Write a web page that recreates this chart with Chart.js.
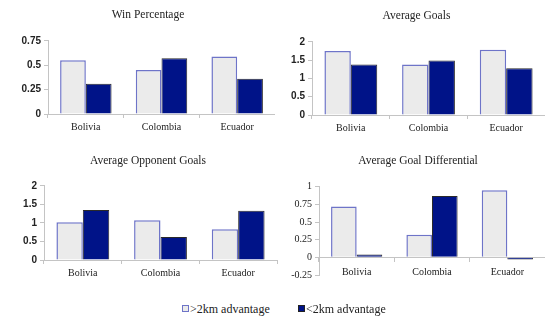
<!DOCTYPE html>
<html>
<head>
<meta charset="utf-8">
<script src="https://cdn.jsdelivr.net/npm/chart.js@4"></script>
<style>
    body { margin: 0; background: #fff; }
    #wrap { position: relative; width: 545px; height: 329px; overflow: hidden; }
    canvas { position: absolute; }
    .legend { position: absolute; top: 302px; font-family: "Liberation Serif", serif; font-size: 12px; color: #222; white-space: nowrap; }
    .swatch { display: inline-block; width: 5px; height: 5px; margin-right: 1px; vertical-align: 1px; }
</style>
</head>
<body>
<div id="wrap">
    <canvas id="winChart" style="left:0;top:0"></canvas>
    <canvas id="goalsChart" style="left:272px;top:0"></canvas>
    <canvas id="oppChart" style="left:0;top:140px"></canvas>
    <canvas id="diffChart" style="left:272px;top:140px"></canvas>
    <div class="legend" style="left:182px"><span class="swatch" style="background:#ebebeb;border:1px solid #6e74c8"></span>&gt;2km advantage</div>
    <div class="legend" style="left:298px"><span class="swatch" style="background:#001388;border:1px solid #222"></span>&lt;2km advantage</div>
</div>
<script>
// ==================== DATA ====================

const countries = ['Bolivia', 'Colombia', 'Ecuador'];
const seriesNames = ['>2km advantage', '<2km advantage'];

const winPctHigh = [0.55, 0.45, 0.59];
const winPctLow = [0.31, 0.57, 0.36];

const goalsHigh = [1.75, 1.38, 1.78];
const goalsLow = [1.38, 1.49, 1.28];

const oppGoalsHigh = [1.02, 1.07, 0.83];
const oppGoalsLow = [1.35, 0.62, 1.33];

const goalDiffHigh = [0.72, 0.32, 0.95];
const goalDiffLow = [0.04, 0.87, -0.03];

// ==================== HELPERS ====================

const axisGray = '#c4c4c4';

function makeDatasets(high, low) {
    return [{
        label: seriesNames[0],
        data: high,
        backgroundColor: '#ebebeb',
        borderColor: '#6e74c8',
        borderWidth: 1.5,
    },
    {
        label: seriesNames[1],
        data: low,
        backgroundColor: '#001388',
        borderColor: '#2a2a2a',
        borderWidth: 1,
    }];
}

function setupPanel(id, cfg) {
    const canvas = document.getElementById(id);
    canvas.width = cfg.w;
    canvas.height = cfg.h;
    canvas.style.width = cfg.w + 'px';
    canvas.style.height = cfg.h + 'px';

    const xScale = {
        type: 'category',
        offset: true,
        grid: { display: true, drawOnChartArea: false, drawTicks: true, tickLength: 4, color: axisGray, offset: true },
        border: { color: axisGray },
        ticks: {
            padding: cfg.xAtZero ? 5 : 3,
            color: '#222',
            font: { family: 'Liberation Serif', size: 10 }
        },
        afterFit: s => { if (cfg.xHeight) s.height = cfg.xHeight; }
    };
    if (cfg.xAtZero) xScale.position = { y: 0 };

    return new Chart(canvas, {
        type: 'bar',
        data: { labels: countries, datasets: makeDatasets(cfg.high, cfg.low) },
        options: {
            responsive: false,
            animation: false,
            categoryPercentage: 0.68,
            barPercentage: 1.0,
            layout: { padding: cfg.padding },
            plugins: {
                legend: { display: false },
                tooltip: { enabled: false },
                title: {
                    display: true,
                    text: cfg.title,
                    color: '#222',
                    font: { family: 'Liberation Serif', size: 11.5, weight: 'normal' },
                    padding: { top: cfg.titleTop, bottom: cfg.titleBottom }
                }
            },
            scales: {
                x: xScale,
                y: {
                    min: cfg.min,
                    max: cfg.max,
                    grid: { display: true, drawOnChartArea: false, drawTicks: true, tickLength: 4, color: axisGray },
                    border: { color: axisGray },
                    ticks: {
                        stepSize: cfg.step,
                        padding: 3,
                        color: '#222',
                        callback: v => String(+v.toFixed(2)),
                        font: cfg.serifTicks
                            ? { family: 'Liberation Serif', size: 10 }
                            : { family: 'Liberation Sans', size: 10, weight: 'bold' }
                    },
                    afterFit: s => { s.width = cfg.yWidth; }
                }
            }
        }
    });
}

// ==================== SETUP CHARTS ====================

setupPanel('winChart', {
    w: 275, h: 140, title: 'Win Percentage', high: winPctHigh, low: winPctLow,
    min: 0, max: 0.75, step: 0.25, yWidth: 27, xHeight: 26,
    titleTop: 8, titleBottom: 19, padding: { left: 21, right: 0, top: 0, bottom: 0 }
});

setupPanel('goalsChart', {
    w: 273, h: 140, title: 'Average Goals', high: goalsHigh, low: goalsLow,
    min: 0, max: 2, step: 0.5, yWidth: 24, xHeight: 25,
    titleTop: 9, titleBottom: 19, padding: { left: 16, right: 0, top: 0, bottom: 0 }
});

setupPanel('oppChart', {
    w: 280, h: 150, title: 'Average Opponent Goals', high: oppGoalsHigh, low: oppGoalsLow,
    min: 0, max: 2, step: 0.5, yWidth: 25, xHeight: 30,
    titleTop: 14, titleBottom: 18, padding: { left: 19, right: 3, top: 0, bottom: 0 }
});

setupPanel('diffChart', {
    w: 273, h: 150, title: 'Average Goal Differential', high: goalDiffHigh, low: goalDiffLow,
    min: -0.25, max: 1, step: 0.25, yWidth: 28, xAtZero: true, serifTicks: true,
    titleTop: 14, titleBottom: 19, padding: { left: 19, right: 0, top: 0, bottom: 15 }
});
</script>
</body>
</html>
